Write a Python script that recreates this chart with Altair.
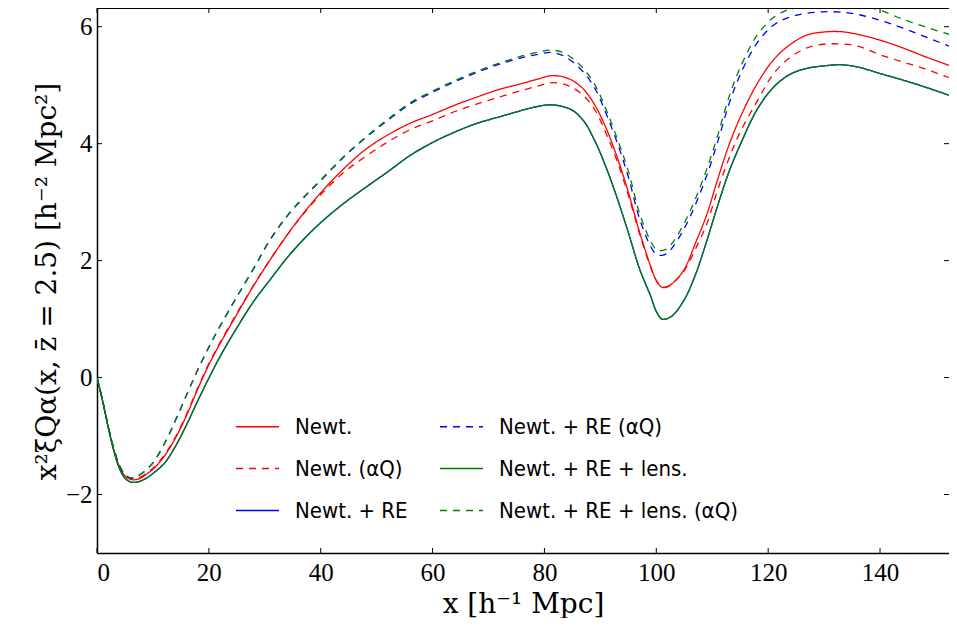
import altair as alt
import pandas as pd

# x grid (h^-1 Mpc)
x_vals = [0, 1, 2, 3, 4, 5, 6, 7, 8, 9, 10, 12, 14, 16, 18, 20, 22, 25, 28, 31, 34, 37, 40,
          44, 48, 52, 56, 60, 64, 68, 72, 76, 79, 81, 83, 85, 87, 89, 91, 93, 95, 97, 99,
          100, 101, 102, 103, 105, 107, 109, 111, 113, 115, 118, 121, 124, 127, 130, 133, 136,
          140, 144, 148, 152, 155]

newt = [0, -0.40, -0.84, -1.23, -1.52, -1.68, -1.74, -1.745, -1.71, -1.64, -1.57,
        -1.35, -1.04, -0.65, -0.20, 0.22, 0.58, 1.08, 1.57, 2.02, 2.44, 2.82, 3.16,
        3.56, 3.90, 4.15, 4.35, 4.50, 4.66, 4.80, 4.93, 5.03, 5.11, 5.16, 5.15, 5.08, 4.93,
        4.66, 4.27, 3.77, 3.17, 2.49, 1.90, 1.66, 1.545, 1.55, 1.62, 1.85, 2.30, 2.78, 3.40,
        3.98, 4.45, 5.02, 5.44, 5.70, 5.86, 5.91, 5.915, 5.87, 5.77, 5.64, 5.49, 5.35, 5.24]

newt_aq = [0, -0.40, -0.83, -1.22, -1.51, -1.66, -1.72, -1.725, -1.69, -1.62, -1.55,
           -1.33, -1.02, -0.63, -0.18, 0.24, 0.60, 1.10, 1.58, 2.02, 2.44, 2.81, 3.13,
           3.50, 3.78, 4.03, 4.24, 4.39, 4.55, 4.68, 4.80, 4.91, 4.99, 5.04, 5.03, 4.96, 4.82,
           4.58, 4.18, 3.70, 3.12, 2.46, 1.88, 1.66, 1.55, 1.56, 1.62, 1.83, 2.20, 2.62, 3.22,
           3.75, 4.20, 4.72, 5.20, 5.48, 5.64, 5.70, 5.705, 5.67, 5.52, 5.40, 5.28, 5.14, 5.05]

newt_re = [0, -0.40, -0.85, -1.25, -1.55, -1.72, -1.785, -1.79, -1.76, -1.71, -1.64,
           -1.47, -1.18, -0.81, -0.40, -0.01, 0.36, 0.85, 1.30, 1.68, 2.05, 2.37, 2.65,
           2.97, 3.25, 3.52, 3.80, 4.02, 4.20, 4.35, 4.46, 4.57, 4.64, 4.665, 4.64, 4.57, 4.39,
           4.05, 3.60, 3.07, 2.48, 1.86, 1.39, 1.13, 1.00, 1.01, 1.07, 1.33, 1.76, 2.33, 2.95,
           3.52, 3.98, 4.58, 4.97, 5.19, 5.29, 5.33, 5.35, 5.31, 5.20, 5.09, 4.97, 4.84, 4.75]

newt_re_aq = [0, -0.39, -0.83, -1.21, -1.50, -1.66, -1.72, -1.70, -1.64, -1.56, -1.46,
              -1.14, -0.74, -0.30, 0.13, 0.52, 0.88, 1.38, 1.86, 2.36, 2.76, 3.08, 3.37,
              3.76, 4.10, 4.40, 4.68, 4.88, 5.06, 5.22, 5.36, 5.47, 5.53, 5.56, 5.52, 5.40, 5.22,
              4.95, 4.52, 4.02, 3.43, 2.72, 2.24, 2.11, 2.09, 2.13, 2.24, 2.55, 2.96, 3.45, 4.04,
              4.68, 5.18, 5.72, 6.03, 6.17, 6.23, 6.255, 6.25, 6.21, 6.11, 5.98, 5.83, 5.68, 5.57]

newt_re_lens = [0, -0.40, -0.85, -1.25, -1.55, -1.72, -1.785, -1.79, -1.76, -1.71, -1.64,
                -1.47, -1.18, -0.81, -0.40, -0.01, 0.36, 0.85, 1.30, 1.68, 2.05, 2.37, 2.65,
                2.97, 3.25, 3.52, 3.80, 4.02, 4.20, 4.35, 4.46, 4.57, 4.64, 4.665, 4.64, 4.57, 4.39,
                4.05, 3.60, 3.07, 2.48, 1.86, 1.39, 1.13, 1.00, 1.01, 1.07, 1.33, 1.76, 2.33, 2.95,
                3.52, 3.98, 4.58, 4.97, 5.19, 5.29, 5.33, 5.35, 5.31, 5.20, 5.09, 4.97, 4.84, 4.75]

newt_re_lens_aq = [0, -0.39, -0.83, -1.21, -1.50, -1.66, -1.72, -1.70, -1.64, -1.56, -1.46,
                   -1.14, -0.74, -0.30, 0.13, 0.52, 0.88, 1.38, 1.87, 2.37, 2.77, 3.09, 3.38,
                   3.77, 4.11, 4.42, 4.70, 4.90, 5.08, 5.24, 5.38, 5.50, 5.57, 5.60, 5.57, 5.46, 5.28,
                   5.01, 4.59, 4.09, 3.53, 2.81, 2.33, 2.19, 2.17, 2.21, 2.32, 2.64, 3.06, 3.56, 4.15,
                   4.80, 5.30, 5.85, 6.16, 6.31, 6.38, 6.41, 6.41, 6.37, 6.28, 6.13, 6.00, 5.88, 5.80]

series_names = ["Newt.", "Newt. (αQ)", "Newt. + RE", "Newt. + RE (αQ)",
                "Newt. + RE + lens.", "Newt. + RE + lens. (αQ)"]
series_values = [newt, newt_aq, newt_re, newt_re_aq, newt_re_lens, newt_re_lens_aq]
series_colors = ["#ff0000", "#ff0000", "#0000ff", "#0000ff", "#008000", "#008000"]
series_dashes = [[1, 0], [7, 6], [1, 0], [7, 6], [1, 0], [7, 6]]

x_ticks = [0, 20, 40, 60, 80, 100, 120, 140]
y_ticks = [-2, 0, 2, 4, 6]

rows = []
for k, (name, vals) in enumerate(zip(series_names, series_values)):
    for xv, yv in zip(x_vals, vals):
        rows.append({"x": xv, "y": yv, "series": name, "k": k})
df = pd.DataFrame(rows)

W, H = 852, 545
XMAX, YMIN, YMAX = 152.33, -3, 6.32

leg = alt.Legend(orient="none", legendX=138, legendY=396, columns=2, title=None,
                 symbolType="stroke", symbolSize=1849, symbolStrokeWidth=1.5,
                 labelFont="DejaVu Sans Condensed, Liberation Sans", labelFontSize=22,
                 labelColor="black", labelOffset=15, rowPadding=8, columnPadding=29,
                 padding=0, labelLimit=400)

xscale = alt.Scale(domain=[0, XMAX], nice=False, zero=False)
yscale = alt.Scale(domain=[YMIN, YMAX], nice=False, zero=False)

x_axis = alt.Axis(values=x_ticks, title="x [h⁻¹ Mpc]", titlePadding=5, labelPadding=7)
y_axis = alt.Axis(values=y_ticks, title="x²ξQα(x, z̄ = 2.5)  [h⁻² Mpc²]",
                  labelPadding=5, titleX=-36, titleY=273)

lines = alt.Chart(df).mark_line(strokeWidth=1.3, clip=True, interpolate="catmull-rom").encode(
    x=alt.X("x:Q", scale=xscale, axis=x_axis),
    y=alt.Y("y:Q", scale=yscale, axis=y_axis),
    color=alt.Color("series:N", scale=alt.Scale(domain=series_names, range=series_colors),
                    legend=leg),
    strokeDash=alt.StrokeDash("series:N",
                              scale=alt.Scale(domain=series_names, range=series_dashes),
                              legend=leg),
    detail="k:O",
)

xt = pd.DataFrame({"x": x_ticks})
yt = pd.DataFrame({"y": y_ticks})
tick_len = 5
bottom_ticks = alt.Chart(xt).mark_rule(color="black", strokeWidth=1).encode(
    x=alt.X("x:Q", scale=xscale, axis=x_axis), y=alt.value(H), y2=alt.value(H - tick_len))
top_ticks = alt.Chart(xt).mark_rule(color="black", strokeWidth=1).encode(
    x=alt.X("x:Q", scale=xscale, axis=x_axis), y=alt.value(0), y2=alt.value(tick_len))
left_ticks = alt.Chart(yt).mark_rule(color="black", strokeWidth=1).encode(
    y=alt.Y("y:Q", scale=yscale, axis=y_axis), x=alt.value(0), x2=alt.value(tick_len))
right_ticks = alt.Chart(yt).mark_rule(color="black", strokeWidth=1).encode(
    y=alt.Y("y:Q", scale=yscale, axis=y_axis), x=alt.value(W - tick_len), x2=alt.value(W))
top_frame = alt.Chart(xt).mark_rule(color="black", strokeWidth=1.5).encode(
    x=alt.value(0), x2=alt.value(W), y=alt.value(0))

chart = alt.layer(lines, bottom_ticks, top_ticks, left_ticks, right_ticks, top_frame).properties(
    width=W, height=H,
    autosize=alt.AutoSizeParams(type="none"),
    padding={"left": 89, "top": 0, "right": 0, "bottom": 65},
    background="white",
).configure_view(stroke=None).configure_axis(
    domain=True, domainColor="black", domainWidth=1.5, ticks=False, grid=False,
    labelFont="Liberation Serif", labelFontSize=25, labelColor="black",
    titleFont="DejaVu Serif", titleFontSize=28, titleFontWeight="normal",
    titleColor="black",
)

chart.save("out.html", embed_options={"renderer": "svg", "actions": False})
